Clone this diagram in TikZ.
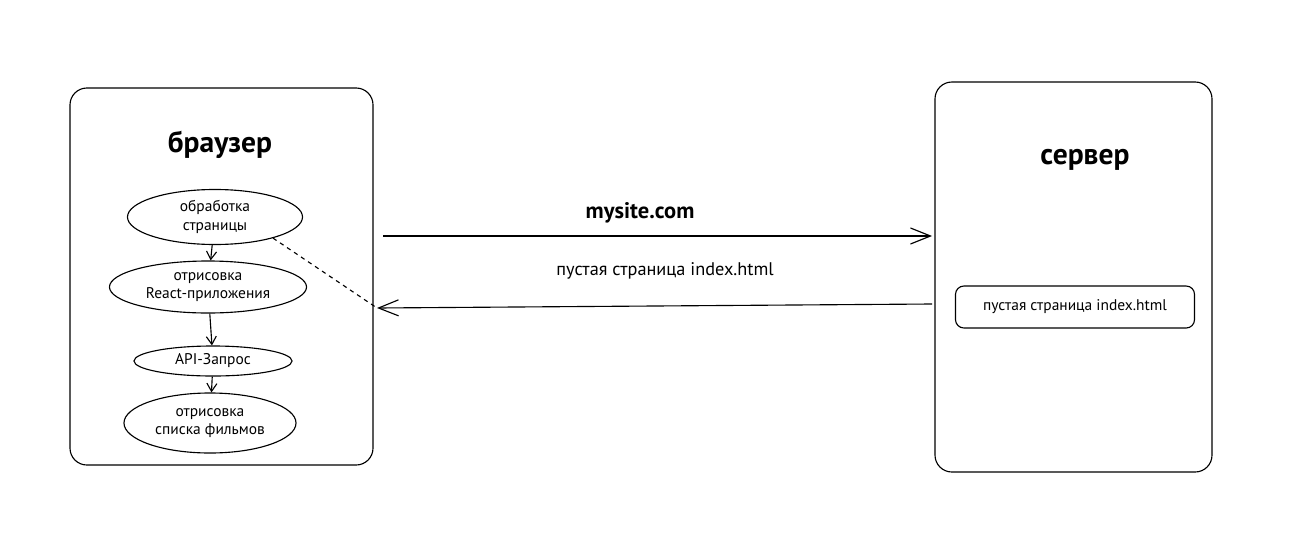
\documentclass[tikz,border=0pt]{standalone}
\usepackage{fontspec}
\setmainfont{PT Sans}
\usetikzlibrary{arrows.meta,shapes.geometric}
\begin{document}
\begin{tikzpicture}[x=0.025cm, y=-0.025cm, line width=0.8pt,
    panel/.style={draw, rounded corners=12pt},
    title/.style={font=\fontsize{21}{24}\selectfont\bfseries},
    stage/.style={draw, ellipse, inner sep=0pt, align=center, font=\fontsize{11}{13}\selectfont},
    link/.style={-{Straight Barb[length=2mm,width=2.5mm]}},
    message/.style={-{Straight Barb[length=5mm,width=4mm]}}]
  \useasboundingbox (0,0) rectangle (1306,552);
  % browser
  \draw[panel] (70,88) rectangle (373,465);
  \node[title] (browser) at (220,145) {браузер};
  \node[stage, minimum width=4.375cm, minimum height=1.375cm] (parse) at (215,217) {обработка\\страницы};
  \node[stage, minimum width=4.925cm, minimum height=1.3cm] (render) at (208,287) {отрисовка\\React-приложения};
  \node[stage, minimum width=3.95cm, minimum height=0.75cm] (api) at (213,361) {API-Запрос};
  \node[stage, minimum width=4.3cm, minimum height=1.5cm] (list) at (210,423) {отрисовка\\списка фильмов};
  \draw[link] (parse) -- (render);
  \draw[link] (render) -- (api);
  \draw[link] (api) -- (list);
  % server
  \draw[panel] (935,82) rectangle (1212,472);
  \node[title] (server) at (1085,160) {сервер};
  \node[draw, rounded corners=6pt, minimum width=5.975cm, minimum height=1.05cm, font=\fontsize{11}{13}\selectfont] (page) at (1075,307) {пустая страница index.html};
  % requests
  \coordinate (reqfrom) at (383,236);
  \coordinate (reqto) at (932,236);
  \coordinate (respfrom) at (932,304);
  \coordinate (respto) at (377,308);
  \draw[message] (reqfrom) -- (reqto);
  \draw[message] (respfrom) -- (respto);
  \node[font=\fontsize{16}{18}\selectfont\bfseries] (site) at (640,213) {mysite.com};
  \node[font=\fontsize{13}{15}\selectfont] (empty) at (665,271) {пустая страница index.html};
  \draw[dashed] (parse.-20) -- (respto);
\end{tikzpicture}
\end{document}
